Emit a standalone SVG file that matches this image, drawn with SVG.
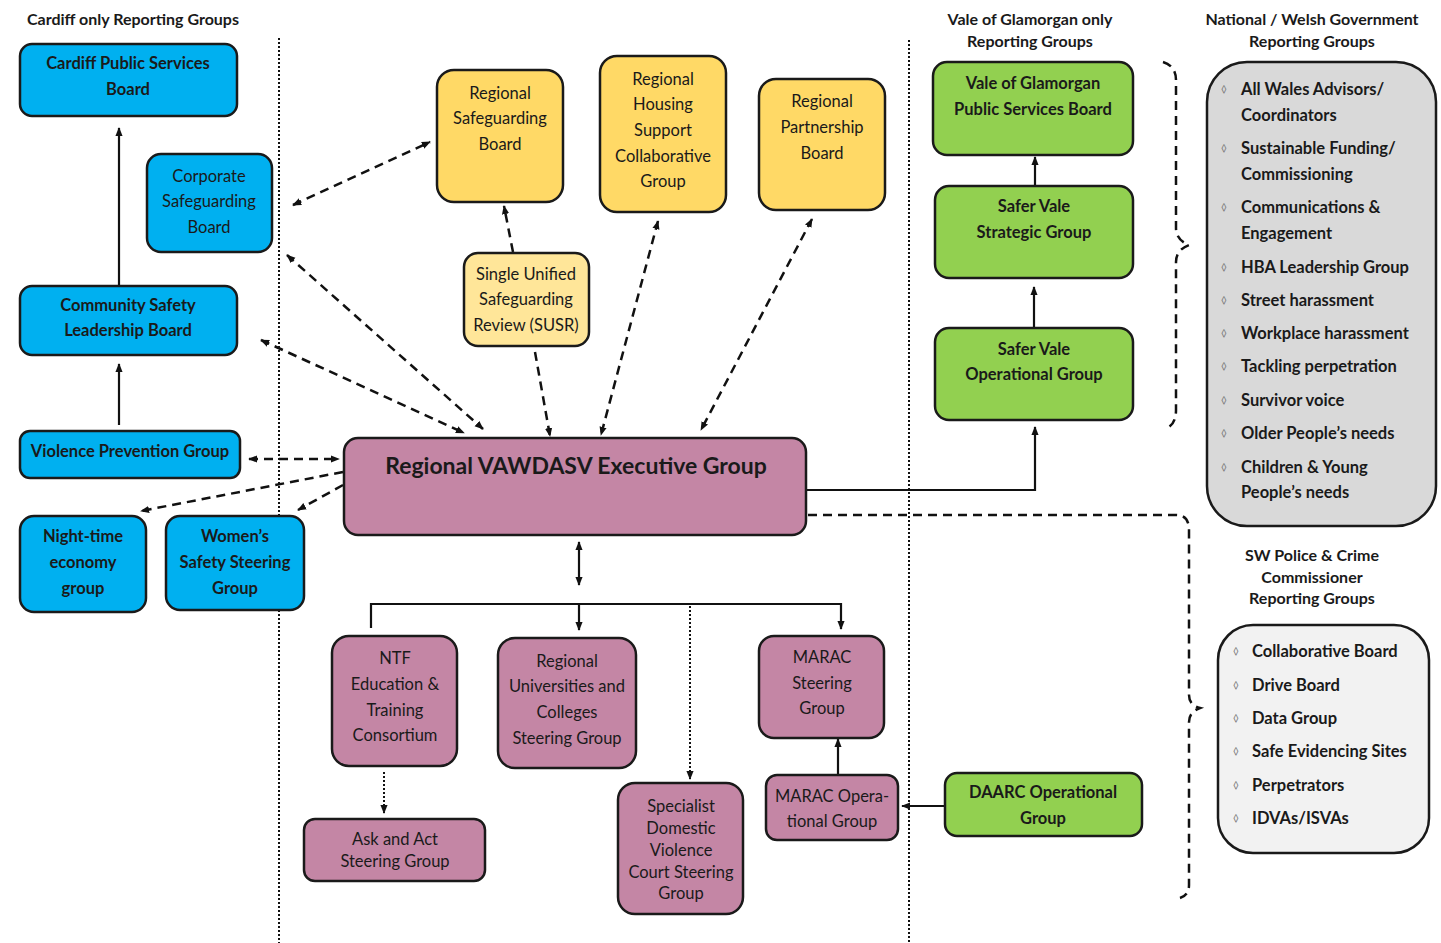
<svg xmlns="http://www.w3.org/2000/svg" width="1441" height="943" viewBox="0 0 1441 943">
<defs>
<marker id="ah" viewBox="0 0 10 10" refX="9" refY="5" markerWidth="9" markerHeight="9" markerUnits="userSpaceOnUse" orient="auto-start-reverse"><path d="M0,1 L10,5 L0,9 z" fill="#111"/></marker>
<style>
text{font-family:Lato,"Open Sans","Liberation Sans",sans-serif;fill:#1a1a1a}
.h{font-size:16px;font-weight:bold;text-anchor:middle}
.nb{font-size:16.5px;font-weight:bold;text-anchor:middle}
.nr{font-size:16.5px;text-anchor:middle}
.li{font-size:16.5px;font-weight:bold}
.bu{font-size:10px;fill:#777}
.box{stroke:#1a1a1a;stroke-width:2.5}
.blue{fill:#00B0F0}
.yel{fill:#FFD966}
.ly{fill:#FFE699}
.pur{fill:#C486A5}
.grn{fill:#92D050}
.sol{fill:none;stroke:#111;stroke-width:2.2}
.dash{fill:none;stroke:#111;stroke-width:2.5;stroke-dasharray:9 6}
.dot{fill:none;stroke:#111;stroke-width:2;stroke-dasharray:2 2}
</style>
</defs>
<rect width="1441" height="943" fill="#fff"/>

<g id="headers">
<text class="h" x="133" y="25">Cardiff only Reporting Groups</text>
<text class="h" x="1030" y="25">Vale of Glamorgan only</text>
<text class="h" x="1030" y="47">Reporting Groups</text>
<text class="h" x="1312" y="25">National / Welsh Government</text>
<text class="h" x="1312" y="47">Reporting Groups</text>
<text class="h" x="1312" y="561">SW Police &amp; Crime</text>
<text class="h" x="1312" y="583">Commissioner</text>
<text class="h" x="1312" y="604">Reporting Groups</text>
</g>

<g id="dividers">
<line class="dot" x1="279" y1="38" x2="279" y2="943"/>
<line class="dot" x1="909" y1="40" x2="909" y2="943"/>
</g>

<g id="connectors">
<line class="sol" x1="119" y1="286" x2="119" y2="128" marker-end="url(#ah)"/>
<line class="sol" x1="119" y1="425" x2="119" y2="364" marker-end="url(#ah)"/>
<line class="dash" x1="293" y1="205" x2="430" y2="142" marker-start="url(#ah)" marker-end="url(#ah)"/>
<line class="dash" x1="287" y1="255" x2="483" y2="429" marker-start="url(#ah)" marker-end="url(#ah)"/>
<line class="dash" x1="261" y1="340" x2="464" y2="433" marker-start="url(#ah)" marker-end="url(#ah)"/>
<line class="dash" x1="513" y1="252" x2="504" y2="206" marker-end="url(#ah)"/>
<line class="dash" x1="535" y1="352" x2="550" y2="436" marker-end="url(#ah)"/>
<line class="dash" x1="658" y1="221" x2="601" y2="435" marker-start="url(#ah)" marker-end="url(#ah)"/>
<line class="dash" x1="812" y1="219" x2="701" y2="430" marker-start="url(#ah)" marker-end="url(#ah)"/>
<line class="dash" x1="249" y1="459" x2="339" y2="459" marker-start="url(#ah)" marker-end="url(#ah)"/>
<line class="dash" x1="343" y1="472" x2="141" y2="511" marker-end="url(#ah)"/>
<line class="dash" x1="343" y1="485" x2="298" y2="510" marker-end="url(#ah)"/>
<polyline class="sol" points="806,490 1035,490 1035,427" marker-end="url(#ah)"/>
<line class="sol" x1="1035" y1="186" x2="1035" y2="157" marker-end="url(#ah)"/>
<line class="sol" x1="1034" y1="328" x2="1034" y2="287" marker-end="url(#ah)"/>
<path class="dash" d="M1163,62 Q1176,66 1176,80 L1176,228 Q1176,240 1189,245 Q1176,250 1176,262 L1176,410 Q1176,422 1169,427"/>
<path class="dash" d="M808,515 L1176,515 Q1189,515 1189,530 L1189,695 Q1189,705 1200,708 Q1189,712 1189,722 L1189,885 Q1189,895 1180,898"/>
<line class="sol" x1="579" y1="542" x2="579" y2="585" marker-start="url(#ah)" marker-end="url(#ah)"/>
<polyline class="sol" points="371,628 371,604 841,604 841,629" marker-end="url(#ah)"/>
<line class="sol" x1="579" y1="604" x2="579" y2="630" marker-end="url(#ah)"/>
<line class="dot" x1="690" y1="606" x2="690" y2="779" marker-end="url(#ah)"/>
<line class="dot" x1="384" y1="772" x2="384" y2="813" marker-end="url(#ah)"/>
<line class="sol" x1="838" y1="775" x2="838" y2="739" marker-end="url(#ah)"/>
<line class="sol" x1="945" y1="806" x2="902" y2="806" marker-end="url(#ah)"/>
</g>

<g id="cardiff-psb"><rect class="box blue" x="20" y="44" width="217" height="72" rx="12"/>
<text class="nb" x="128" y="69">Cardiff Public Services</text><text class="nb" x="128" y="95">Board</text></g>
<g id="corporate-sb"><rect class="box blue" x="147" y="154" width="125" height="98" rx="14"/>
<text class="nr" x="209" y="182">Corporate</text><text class="nr" x="209" y="207">Safeguarding</text><text class="nr" x="209" y="233">Board</text></g>
<g id="community-safety"><rect class="box blue" x="20" y="286" width="217" height="69" rx="12"/>
<text class="nb" x="128" y="311">Community Safety</text><text class="nb" x="128" y="336">Leadership Board</text></g>
<g id="violence-prevention"><rect class="box blue" x="20" y="431" width="220" height="47" rx="10"/>
<text class="nb" x="130" y="457">Violence Prevention Group</text></g>
<g id="night-time"><rect class="box blue" x="20" y="516" width="126" height="96" rx="14"/>
<text class="nb" x="83" y="542">Night-time</text><text class="nb" x="83" y="568">economy</text><text class="nb" x="83" y="594">group</text></g>
<g id="womens-safety"><rect class="box blue" x="166" y="516" width="138" height="94" rx="14"/>
<text class="nb" x="235" y="542">Women’s</text><text class="nb" x="235" y="568">Safety Steering</text><text class="nb" x="235" y="594">Group</text></g>

<g id="regional-safeguarding"><rect class="box yel" x="437" y="70" width="126" height="132" rx="17"/>
<text class="nr" x="500" y="99">Regional</text><text class="nr" x="500" y="124">Safeguarding</text><text class="nr" x="500" y="150">Board</text></g>
<g id="regional-housing"><rect class="box yel" x="600" y="56" width="126" height="156" rx="17"/>
<text class="nr" x="663" y="85">Regional</text><text class="nr" x="663" y="110">Housing</text><text class="nr" x="663" y="136">Support</text><text class="nr" x="663" y="162">Collaborative</text><text class="nr" x="663" y="187">Group</text></g>
<g id="regional-partnership"><rect class="box yel" x="759" y="79" width="126" height="131" rx="17"/>
<text class="nr" x="822" y="107">Regional</text><text class="nr" x="822" y="133">Partnership</text><text class="nr" x="822" y="159">Board</text></g>
<g id="susr"><rect class="box ly" x="464" y="253" width="125" height="93" rx="14"/>
<text class="nr" x="526" y="280">Single Unified</text><text class="nr" x="526" y="305">Safeguarding</text><text class="nr" x="526" y="331">Review (SUSR)</text></g>

<g id="exec"><rect class="box pur" x="344" y="438" width="462" height="97" rx="14"/>
<text x="576" y="474" style="font-size:23px;font-weight:bold;text-anchor:middle">Regional VAWDASV Executive Group</text></g>

<g id="vog-psb"><rect class="box grn" x="933" y="62" width="200" height="93" rx="14"/>
<text class="nb" x="1033" y="89">Vale of Glamorgan</text><text class="nb" x="1033" y="115">Public Services Board</text></g>
<g id="safer-vale-strategic"><rect class="box grn" x="935" y="186" width="198" height="92" rx="14"/>
<text class="nb" x="1034" y="212">Safer Vale</text><text class="nb" x="1034" y="238">Strategic Group</text></g>
<g id="safer-vale-operational"><rect class="box grn" x="935" y="328" width="198" height="92" rx="14"/>
<text class="nb" x="1034" y="355">Safer Vale</text><text class="nb" x="1034" y="380">Operational Group</text></g>
<g id="daarc"><rect class="box grn" x="945" y="773" width="197" height="63" rx="12"/>
<text class="nb" x="1043" y="798">DAARC Operational</text><text class="nb" x="1043" y="824">Group</text></g>

<g id="national"><rect class="box" x="1207" y="62" width="229" height="464" rx="40" fill="#D9D9D9"/>
<text class="bu" x="1221" y="93">◊</text><text class="li" x="1241" y="95">All Wales Advisors/</text><text class="li" x="1241" y="121">Coordinators</text>
<text class="bu" x="1221" y="152">◊</text><text class="li" x="1241" y="154">Sustainable Funding/</text><text class="li" x="1241" y="180">Commissioning</text>
<text class="bu" x="1221" y="211">◊</text><text class="li" x="1241" y="213">Communications &amp;</text><text class="li" x="1241" y="239">Engagement</text>
<text class="bu" x="1221" y="271">◊</text><text class="li" x="1241" y="273">HBA Leadership Group</text>
<text class="bu" x="1221" y="304">◊</text><text class="li" x="1241" y="306">Street harassment</text>
<text class="bu" x="1221" y="337">◊</text><text class="li" x="1241" y="339">Workplace harassment</text>
<text class="bu" x="1221" y="370">◊</text><text class="li" x="1241" y="372">Tackling perpetration</text>
<text class="bu" x="1221" y="404">◊</text><text class="li" x="1241" y="406">Survivor voice</text>
<text class="bu" x="1221" y="437">◊</text><text class="li" x="1241" y="439">Older People’s needs</text>
<text class="bu" x="1221" y="471">◊</text><text class="li" x="1241" y="473">Children &amp; Young</text><text class="li" x="1241" y="498">People’s needs</text>
</g>

<g id="sw-police"><rect class="box" x="1218" y="625" width="211" height="228" rx="35" fill="#F2F2F2"/>
<text class="bu" x="1233" y="655">◊</text><text class="li" x="1252" y="657">Collaborative Board</text>
<text class="bu" x="1233" y="689">◊</text><text class="li" x="1252" y="691">Drive Board</text>
<text class="bu" x="1233" y="722">◊</text><text class="li" x="1252" y="724">Data Group</text>
<text class="bu" x="1233" y="755">◊</text><text class="li" x="1252" y="757">Safe Evidencing Sites</text>
<text class="bu" x="1233" y="789">◊</text><text class="li" x="1252" y="791">Perpetrators</text>
<text class="bu" x="1233" y="822">◊</text><text class="li" x="1252" y="824">IDVAs/ISVAs</text>
</g>

<g id="ntf"><rect class="box pur" x="332" y="636" width="125" height="130" rx="17"/>
<text class="nr" x="395" y="664">NTF</text><text class="nr" x="395" y="690">Education &amp;</text><text class="nr" x="395" y="716">Training</text><text class="nr" x="395" y="741">Consortium</text></g>
<g id="universities"><rect class="box pur" x="498" y="638" width="138" height="130" rx="17"/>
<text class="nr" x="567" y="667">Regional</text><text class="nr" x="567" y="692">Universities and</text><text class="nr" x="567" y="718">Colleges</text><text class="nr" x="567" y="744">Steering Group</text></g>
<g id="marac-steering"><rect class="box pur" x="759" y="636" width="125" height="102" rx="15"/>
<text class="nr" x="822" y="663">MARAC</text><text class="nr" x="822" y="689">Steering</text><text class="nr" x="822" y="714">Group</text></g>
<g id="ask-act"><rect class="box pur" x="304" y="819" width="181" height="62" rx="11"/>
<text class="nr" x="395" y="845">Ask and Act</text><text class="nr" x="395" y="867">Steering Group</text></g>
<g id="sdvc"><rect class="box pur" x="618" y="783" width="125" height="131" rx="17"/>
<text class="nr" x="681" y="812">Specialist</text><text class="nr" x="681" y="834">Domestic</text><text class="nr" x="681" y="856">Violence</text><text class="nr" x="681" y="878">Court Steering</text><text class="nr" x="681" y="899">Group</text></g>
<g id="marac-op"><rect class="box pur" x="766" y="775" width="132" height="65" rx="11"/>
<text class="nr" x="832" y="802">MARAC Opera-</text><text class="nr" x="832" y="827">tional Group</text></g>
</svg>
